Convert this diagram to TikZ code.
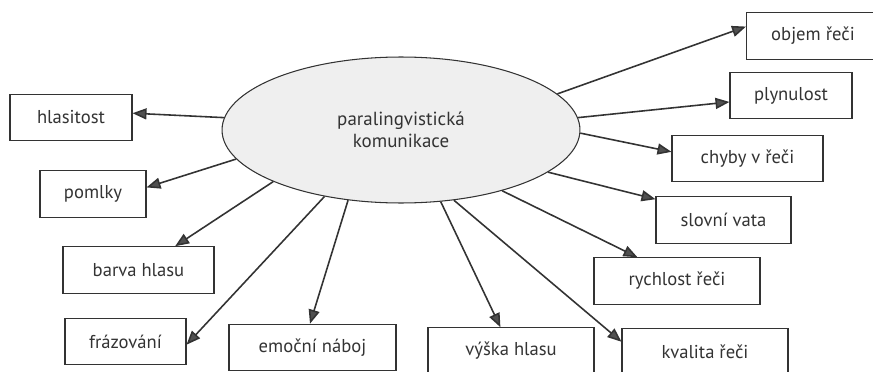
\documentclass[tikz,border=0pt]{standalone}
\usepackage{fontspec}
\setmainfont{PT Sans}
\usetikzlibrary{shapes.geometric,arrows.meta}
\definecolor{ink}{HTML}{333333}
\definecolor{tipgray}{HTML}{505050}
\definecolor{cloud}{HTML}{EFEFEF}

\begin{document}
\begin{tikzpicture}[x=0.02cm,y=-0.02cm,
        box/.style={draw=ink,line width=0.6pt,inner sep=0pt,minimum height=0.93cm,
            text=ink,font=\fontsize{10.6}{12}\selectfont},
        arr/.style={draw=ink,line width=0.9pt,-{Triangle[length=2.8mm,width=2.2mm,fill=tipgray]}}]
        \useasboundingbox (0,0) rectangle (873,372);
        \clip (0,0) rectangle (873,372);

        \node[ellipse,draw=ink,line width=0.6pt,fill=cloud,inner sep=0pt,
            minimum width=7.16cm,minimum height=2.92cm,align=center,text=ink,
            font=\fontsize{10.8}{12.5}\selectfont] (para) at (401,130) {paralingvistická\\komunikace};

        % left side
        \node[box,minimum width=2.44cm] (hlas) at (71,117.5) {hlasitost};
        \node[box,minimum width=2.12cm] (poml) at (93,194) {pomlky};
        \node[box,minimum width=3.02cm] (barva) at (138.5,270) {barva hlasu};
        \node[box,minimum width=2.42cm] (fraz) at (125.5,341.5) {frázování};
        \node[box,minimum width=3.34cm] (emoc) at (312.5,347.5) {emoční náboj};

        % right side
        \node[box,minimum width=3.32cm] (vyska) at (511,351) {výška hlasu};
        \node[box,minimum width=3.32cm] (kval) at (705,352) {kvalita řeči};
        \node[box,minimum width=3.32cm] (rych) at (677,281) {rychlost řeči};
        \node[box,minimum width=2.70cm] (slov) at (723.5,220) {slovní vata};
        \node[box,minimum width=3.02cm] (chyby) at (747.5,158.5) {chyby v řeči};
        \node[box,minimum width=2.44cm] (plyn) at (791,95.5) {plynulost};
        \node[box,minimum width=2.66cm] (objem) at (813,36) {objem řeči};

        \draw[arr] (para.176) -- (hlas.4);
        \draw[arr] (para.190) -- (poml.7.5);
        \draw[arr] (para.202.5) -- (barva.33);
        \draw[arr] (para.221) -- (fraz.-3.3);
        \draw[arr] (para.233.6) -- (emoc.96);
        \draw[arr] (para.299) -- (vyska.114.6);
        \draw[arr] (para.307) -- (kval.173);
        \draw[arr] (para.329) -- (rych.149);
        \draw[arr] (para.344.6) -- (slov.163.5);
        \draw[arr] (para.359) -- (chyby.175);
        \draw[arr] (para.4.9) -- (plyn.186);
        \draw[arr] (para.13.9) -- (objem.172);
\end{tikzpicture}
\end{document}
